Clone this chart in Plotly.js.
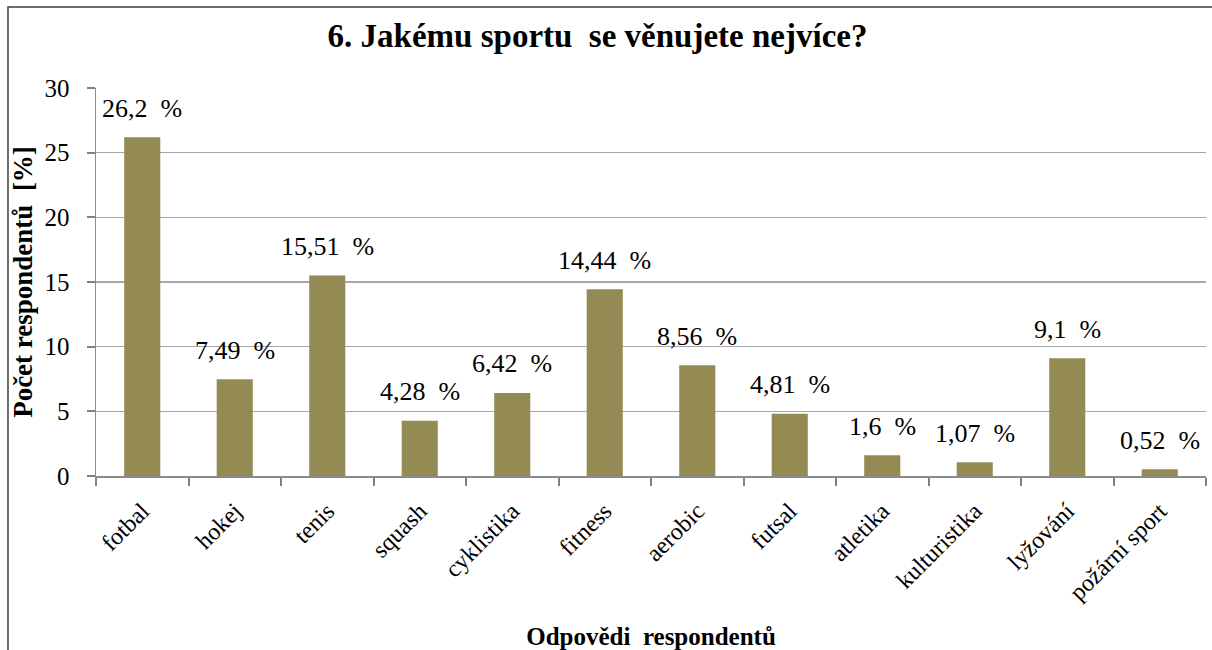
<!DOCTYPE html>
<html>
<head>
<meta charset="utf-8">
<script src="https://cdn.plot.ly/plotly-3.0.1.min.js"></script>
<style>
html,body{margin:0;padding:0;background:#fff;}
#chart{width:1212px;height:650px;}
</style>
</head>
<body>
<div id="chart"></div>
<script>
const categories = ["fotbal","hokej","tenis","squash","cyklistika","fitness","aerobic","futsal","atletika","kulturistika","lyžování","požární sport"];
const values = [26.2, 7.49, 15.51, 4.28, 6.42, 14.44, 8.56, 4.81, 1.6, 1.07, 9.1, 0.52];
const labels = ["26,2","7,49","15,51","4,28","6,42","14,44","8,56","4,81","1,6","1,07","9,1","0,52"];
const yTicks = [0, 5, 10, 15, 20, 25, 30];

const serif = "Liberation Serif";
// category slots on the x axis and the boundaries between them (Excel-style tick marks)
const slots = categories.map((_, i) => i);
const boundaries = Array.from({length: categories.length + 1}, (_, i) => i - 0.5);

const trace = {
  type: "bar",
  x: slots,
  y: values,
  customdata: categories,
  marker: {color: "#948A54", line: {width: 0}},
  hovertemplate: "%{customdata}: %{y}<extra></extra>"
};

const annotations = slots.map((s, i) => ({
  x: s, y: values[i], xref: "x", yref: "y",
  text: labels[i] + "\u00a0 %",
  showarrow: false, yshift: 29,
  font: {family: serif, size: 26, color: "#000"}
}));

const layout = {
  width: 1212, height: 650,
  margin: {l: 96, r: 6, t: 88, b: 174},
  paper_bgcolor: "#fff", plot_bgcolor: "#fff",
  bargap: 0.61,
  showlegend: false,
  font: {family: serif},
  title: {
    text: "<b>6. Jakému sportu\u00a0 se věnujete nejvíce?</b>",
    font: {family: serif, size: 33, color: "#000"},
    x: 0.493, xanchor: "center", y: 0.946, yanchor: "middle"
  },
  xaxis: {
    type: "linear",
    range: [-0.5, categories.length - 0.5],
    tickmode: "array", tickvals: slots, ticktext: categories,
    tickangle: -45,
    ticks: "",
    ticklabelstandoff: 10,
    minor: {tickmode: "array", tickvals: boundaries, ticks: "outside", ticklen: 8, tickcolor: "#808080", tickwidth: 2, showgrid: false},
    showline: true, linecolor: "#8c8c8c", linewidth: 1.5,
    showgrid: false, zeroline: false,
    tickfont: {family: serif, size: 24, color: "#000"},
    title: {text: "<b>Odpovědi\u00a0 respondentů</b>", font: {family: serif, size: 25, color: "#000"}, standoff: 32}
  },
  yaxis: {
    range: [0, 30],
    tickvals: yTicks,
    ticks: "outside", ticklen: 8, tickcolor: "#808080", tickwidth: 2,
    showline: true, linecolor: "#8c8c8c", linewidth: 1.5,
    showgrid: true, gridcolor: "#a6a6a6", gridwidth: 1.5,
    zeroline: false,
    ticklabelstandoff: 12,
    tickfont: {family: serif, size: 25, color: "#000"},
    title: {text: "<b>Počet respondentů\u00a0 [%]</b>", font: {family: serif, size: 27, color: "#000"}, standoff: 4}
  },
  annotations: annotations,
  shapes: [{
    type: "rect", xref: "paper", yref: "paper",
    x0: -0.0793, x1: 1.2, y0: -1.0, y1: 1.2088,
    line: {color: "#3c3c3c", width: 1.5}, fillcolor: "rgba(0,0,0,0)", layer: "above"
  }]
};

Plotly.newPlot("chart", [trace], layout, {displayModeBar: false, staticPlot: true});
</script>
</body>
</html>
